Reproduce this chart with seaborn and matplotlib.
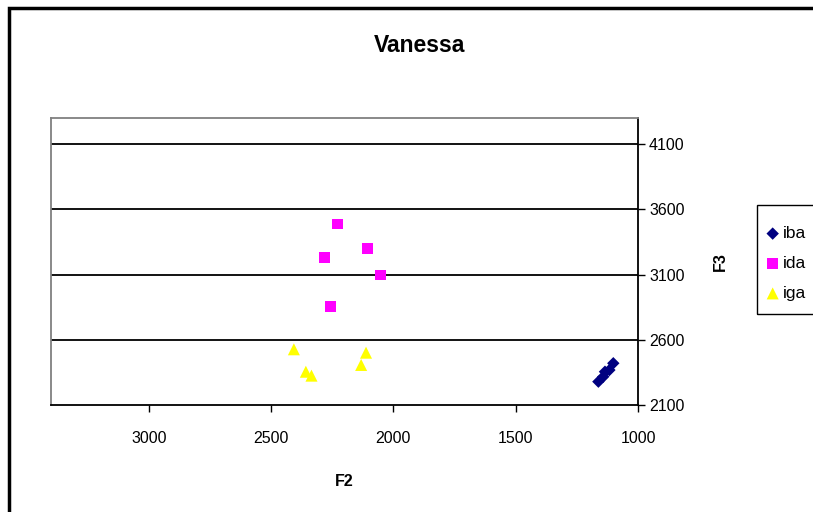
import pandas as pd
import numpy as np
import matplotlib.pyplot as plt
import seaborn as sns
from matplotlib.patches import Rectangle

# Formant values (F2, F3)
groups = ["iba", "ida", "iga"]
iba_f2 = [1101, 1117, 1135, 1142, 1162]
iba_f3 = [2420, 2368, 2355, 2317, 2279]
ida_f2 = [2230, 2107, 2283, 2054, 2257]
ida_f3 = [3487, 3301, 3232, 3096, 2853]
iga_f2 = [2407, 2112, 2132, 2358, 2335]
iga_f3 = [2527, 2501, 2407, 2355, 2325]
x_ticks = [1000, 1500, 2000, 2500, 3000]
y_ticks = [2100, 2600, 3100, 3600, 4100]

df = pd.DataFrame({
    "F2": iba_f2 + ida_f2 + iga_f2,
    "F3": iba_f3 + ida_f3 + iga_f3,
    "group": ["iba"] * len(iba_f2) + ["ida"] * len(ida_f2) + ["iga"] * len(iga_f2),
})

sns.set_style("white")
plt.rcParams["font.family"] = ["Liberation Sans", "DejaVu Sans"]
plt.rcParams["text.color"] = "black"
plt.rcParams["axes.labelcolor"] = "black"
plt.rcParams["xtick.color"] = "black"
plt.rcParams["ytick.color"] = "black"

fig = plt.figure(figsize=(8.13, 5.12), dpi=100)
ax = fig.add_axes([51 / 813, 107 / 512, 587 / 813, 287 / 512])

palette = {"iba": "#000080", "ida": "#FF00FF", "iga": "#FFFF00"}
markers = {"iba": "D", "ida": "s", "iga": "^"}
sizes = {"iba": 40, "ida": 60, "iga": 75}
for g in groups:
    sub = df[df["group"] == g]
    sns.scatterplot(data=sub, x="F2", y="F3", color=palette[g], marker=markers[g],
                    s=sizes[g], edgecolor="none", label=g, ax=ax, zorder=3)

ax.set_xlim(3400, 1000)
ax.set_ylim(2100, 4300)
ax.set_xticks(x_ticks)
ax.set_yticks(y_ticks)
ax.yaxis.tick_right()
ax.yaxis.set_label_position("right")
ax.tick_params(axis="both", labelsize=11.5, length=5, width=1, color="black",
               direction="out")
ax.tick_params(axis="x", bottom=True, pad=14)
ax.tick_params(axis="y", left=False, right=True, pad=3)

for y in y_ticks[1:]:
    ax.axhline(y, color="black", lw=1.3, zorder=1)

ax.spines["top"].set_color("#808080")
ax.spines["left"].set_color("#808080")
ax.spines["bottom"].set_color("black")
ax.spines["right"].set_color("black")
for s in ax.spines.values():
    s.set_linewidth(1.3)

ax.set_xlabel("F2", fontsize=11.5, fontweight="bold", labelpad=20)
ax.set_ylabel("F3", fontsize=11.5, fontweight="bold", labelpad=20)

fig.text(420 / 813, 1 - 45 / 512, "Vanessa", ha="center", va="center",
         fontsize=16.5, fontweight="bold")

# legend without frame, plus a box drawn around it (Excel style)
leg = ax.legend(loc="upper left", bbox_to_anchor=(764 / 813, 1 - 226 / 512),
                bbox_transform=fig.transFigure, fontsize=12.5, frameon=False,
                handletextpad=0.1, handlelength=1.0, labelspacing=0.85,
                borderpad=0, borderaxespad=0)
fig.patches.append(Rectangle((757 / 813, 1 - 314 / 512), 0.2, 109 / 512,
                             transform=fig.transFigure, fill=False,
                             lw=1.0, ec="black"))

fig.patches.append(Rectangle((8.5 / 813, -0.1), 1.1, 1.1 - 8 / 512,
                             transform=fig.transFigure, fill=False,
                             lw=2.5, ec="black"))

fig.savefig("out.png", dpi=100)
